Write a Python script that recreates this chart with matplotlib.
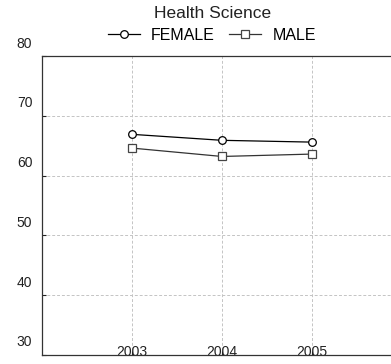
import matplotlib
matplotlib.use("Agg")
import matplotlib.pyplot as plt
from matplotlib import transforms

plt.rcParams['font.family'] = ['Liberation Sans', 'DejaVu Sans']

years = [2003, 2004, 2005]
female = [66.9, 65.9, 65.6]
male = [64.6, 63.2, 63.6]
y_ticks = [30, 40, 50, 60, 70, 80]

fig = plt.figure(figsize=(3.91, 3.64), dpi=100)
ax = fig.add_axes([42 / 391, 9 / 364, 360 / 391, 299 / 364])

ax.plot(years, female, color='black', lw=0.9, marker='o', ms=5.5,
        mfc='white', mec='black', mew=0.9, label='FEMALE')
ax.plot(years, male, color='#333333', lw=0.9, marker='s', ms=5.5,
        mfc='white', mec='#444444', mew=0.9, label='MALE')

ax.set_xlim(2002, 2006)
ax.set_ylim(30, 80)
ax.set_xticks(years)
ax.set_xticklabels([str(y) for y in years])
ax.set_yticks(y_ticks)

ax.grid(True, color='#c4c4c4', ls=(0, (3, 2)), lw=0.7)
ax.spines['right'].set_visible(False)
for s in ['left', 'top', 'bottom']:
    ax.spines[s].set_color('#333333')
    ax.spines[s].set_linewidth(0.9)

ax.tick_params(axis='both', direction='in', length=3, width=0.8,
               labelsize=10, colors='#222222')
ax.tick_params(axis='y', pad=7)
ax.tick_params(axis='x', pad=-7)

# y labels sit a little above their ticks
shift = transforms.ScaledTranslation(0, 14 / 100, fig.dpi_scale_trans)
for lab in ax.get_yticklabels():
    lab.set_transform(lab.get_transform() + shift)

fig.text(0.543, 1 - 14 / 364, 'Health Science', ha='center', va='center',
         fontsize=12.5, color='#222222')
ax.legend(loc='center', bbox_to_anchor=(0.542, 1 - 35 / 364),
          bbox_transform=fig.transFigure, ncol=2, frameon=False,
          fontsize=11.5, handlelength=2.0, handletextpad=0.7,
          columnspacing=0.9, borderpad=0)

fig.savefig('out.png', dpi=100)
